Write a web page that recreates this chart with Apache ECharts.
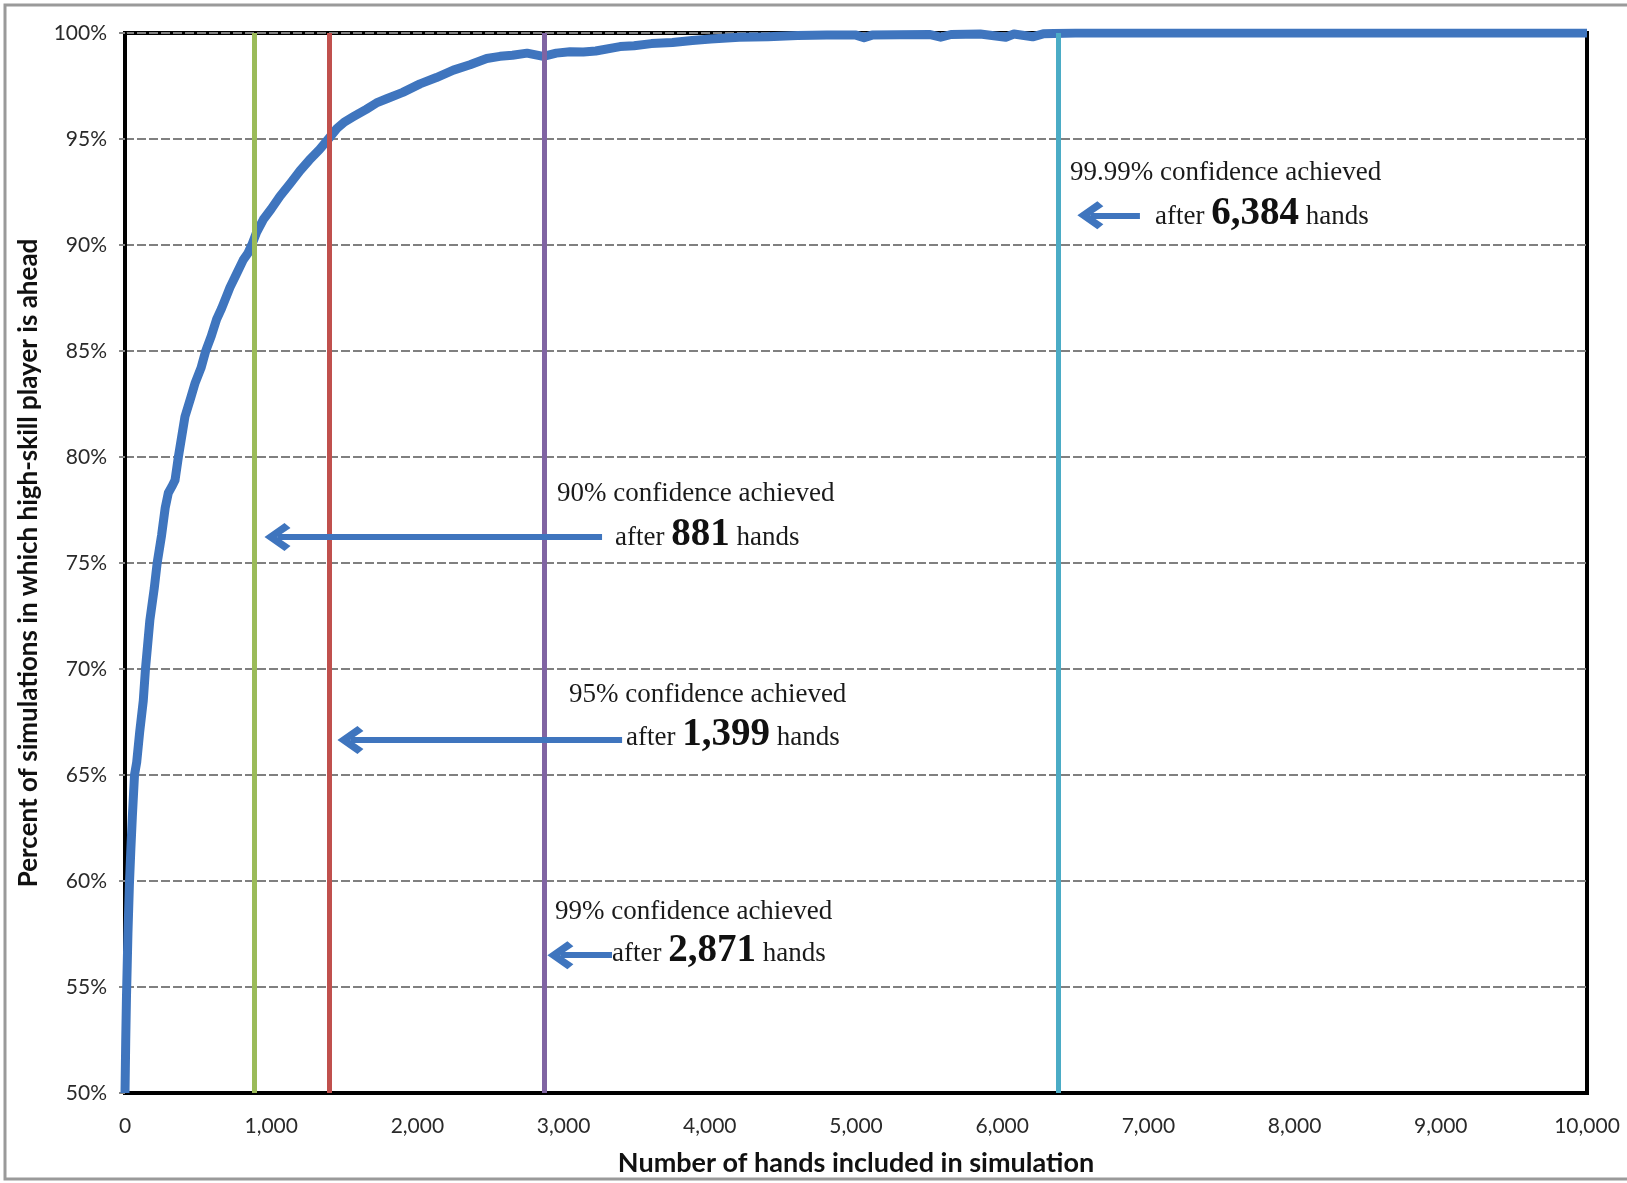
<!DOCTYPE html>
<html>
<head>
<meta charset="utf-8">
<script src="https://cdn.jsdelivr.net/npm/echarts@6/dist/echarts.min.js"></script>
<style>
html,body{margin:0;padding:0;background:#fff;}
#chart{width:1627px;height:1183px;}
</style>
</head>
<body>
<div id="chart"></div>
<script>
// ---- Data ----
const hands = [0, 5, 10, 15, 20, 30, 40, 50, 65, 80, 100, 125, 140, 170, 200, 220, 250, 275, 296, 320, 342, 365, 410, 450, 480, 520, 552, 590, 627, 660, 695, 718, 760, 809, 840, 867, 900, 946, 1000, 1060, 1130, 1197, 1260, 1330, 1391, 1450, 1500, 1562, 1650, 1720, 1790, 1900, 2018, 2130, 2246, 2360, 2474, 2565, 2650, 2750, 2861, 2950, 3044, 3135, 3220, 3386, 3482, 3600, 3744, 3880, 4006, 4200, 4398, 4600, 4800, 5000, 5055, 5110, 5300, 5500, 5579, 5650, 5850, 6024, 6080, 6208, 6280, 6500, 7000, 8000, 9000, 10000];
const pctAhead = [50.0, 52.5, 54.5, 56.0, 57.5, 59.8, 61.5, 63.0, 65.0, 65.6, 67.0, 68.5, 70.0, 72.3, 73.8, 75.0, 76.3, 77.6, 78.3, 78.6, 78.9, 80.0, 81.9, 82.8, 83.5, 84.2, 85.0, 85.7, 86.5, 87.0, 87.6, 88.0, 88.6, 89.3, 89.6, 90.0, 90.6, 91.2, 91.7, 92.3, 92.9, 93.5, 94.0, 94.5, 95.0, 95.5, 95.8, 96.05, 96.4, 96.7, 96.9, 97.2, 97.6, 97.9, 98.25, 98.5, 98.8, 98.9, 98.95, 99.05, 98.9, 99.05, 99.12, 99.1, 99.15, 99.36, 99.4, 99.5, 99.55, 99.65, 99.72, 99.8, 99.82, 99.88, 99.9, 99.9, 99.78, 99.9, 99.92, 99.93, 99.8, 99.93, 99.95, 99.8, 99.95, 99.82, 99.96, 100, 100, 100, 100, 100];

const thresholds = [881, 1399, 2871, 6384];
const thresholdLabels = ['881', '1,399', '2,871', '6,384'];
const confidenceLevels = ['90%', '95%', '99%', '99.99%'];
const thresholdColors = ['#9BBB59', '#C0504D', '#8064A2', '#4BACC6'];
const yTicks = [50, 55, 60, 65, 70, 75, 80, 85, 90, 95, 100];
const xTicks = [0, 1000, 2000, 3000, 4000, 5000, 6000, 7000, 8000, 9000, 10000];

// annotation anchors (in data units: hands, percent)
const headPos = [[2955, 78.25], [3037, 68.77], [2941, 58.54], [6464, 93.4]];
const afterPos = [[3352, 76.32], [3427, 66.89], [3331, 56.70], [7045, 91.46]];
const arrowTail = [[3263, 76.23], [3400, 66.65], [3331, 56.5], [6942, 91.4]];
const arrowTip = [[958, 76.23], [1457, 66.65], [2893, 56.5], [6518, 91.4]];

const serif = '"Liberation Serif", "Times New Roman", serif';
const sans = 'Lato, "Open Sans", sans-serif';
const blue = '#3F75BE';

const curve = hands.map((h, i) => [h, pctAhead[i]]);

const chevron = 'path://M50,0 L100,60 L82,78 L50,38 L18,78 L0,60 Z';
const arrowShift = 85; // hands; moves symbol centre back so the tip lands at arrowTip

const option = {
  animation: false,
  backgroundColor: '#fff',
  graphic: [{
    type: 'rect',
    shape: {x: 5, y: 5, width: 1640, height: 1174},
    style: {fill: 'none', stroke: '#9a9a9a', lineWidth: 3},
    z: 0
  }],
  grid: {
    left: 125, right: 40, top: 33, bottom: 90,
    show: true, borderColor: '#000', borderWidth: 4, backgroundColor: '#fff'
  },
  xAxis: {
    type: 'value', min: 0, max: 10000, interval: 1000,
    name: 'Number of hands included in simulation',
    nameLocation: 'middle', nameGap: 57,
    nameTextStyle: {fontFamily: sans, fontSize: 27, fontWeight: 'bold', color: '#111'},
    axisLine: {show: true, onZero: false, lineStyle: {color: '#000', width: 4}},
    axisTick: {show: false},
    splitLine: {show: false},
    axisLabel: {
      margin: 23, fontFamily: sans, fontSize: 21, color: '#2a2a2a',
      formatter: v => v.toLocaleString('en-US')
    }
  },
  yAxis: {
    type: 'value', min: 50, max: 100, interval: 5,
    name: 'Percent of simulations in which high-skill player is ahead',
    nameLocation: 'middle', nameGap: 83,
    nameTextStyle: {fontFamily: sans, fontSize: 26, fontWeight: 'bold', color: '#111'},
    axisLine: {show: true, lineStyle: {color: '#000', width: 3}},
    axisTick: {show: true, length: 6, lineStyle: {color: '#888', width: 2}},
    splitLine: {show: true, lineStyle: {color: '#808080', width: 2, type: [9, 3]}},
    axisLabel: {
      margin: 18, fontFamily: sans, fontSize: 21, color: '#2a2a2a',
      formatter: v => v + '%'
    }
  },
  series: [
    {
      type: 'line',
      data: curve,
      showSymbol: false,
      symbol: 'none',
      clip: true,
      lineStyle: {color: blue, width: 9, join: 'round'},
      z: 2
    },
    {
      type: 'line',
      data: [],
      z: 4,
      markLine: {
        silent: true,
        symbol: ['none', 'none'],
        label: {show: false},
        animation: false,
        data: thresholds.map((t, i) => ({
          xAxis: t,
          lineStyle: {color: thresholdColors[i], width: 5, type: 'solid'}
        }))
      }
    },
    {
      type: 'line',
      data: [],
      z: 5,
      markLine: {
        silent: true,
        symbol: ['none', chevron],
        symbolSize: [28, 26],
        label: {show: false},
        animation: false,
        lineStyle: {color: blue, width: 6, type: 'solid', opacity: 1},
        itemStyle: {color: blue},
        data: arrowTail.map((tail, i) => [
          {coord: tail},
          {coord: [arrowTip[i][0] + arrowShift, arrowTip[i][1]]}
        ])
      },
      markPoint: {
        silent: true,
        symbol: 'rect',
        symbolSize: 0,
        animation: false,
        data: [].concat(
          headPos.map((p, i) => ({
            coord: p,
            label: {
              show: true, position: [0, 0], align: 'left', verticalAlign: 'middle',
              formatter: confidenceLevels[i] + ' confidence achieved',
              fontFamily: serif, fontSize: 27, color: '#1a1a1a'
            }
          })),
          afterPos.map((p, i) => ({
            coord: p,
            label: {
              show: true, position: [0, 0], align: 'left', verticalAlign: 'middle',
              formatter: '{a|after }{b|' + thresholdLabels[i] + '}{a| hands}',
              rich: {
                a: {fontFamily: serif, fontSize: 27, color: '#1a1a1a', verticalAlign: 'bottom', padding: [0, 0, 3, 0]},
                b: {fontFamily: serif, fontSize: 39, fontWeight: 'bold', color: '#111', verticalAlign: 'bottom'}
              }
            }
          }))
        )
      }
    }
  ]
};

const chart = echarts.init(document.getElementById('chart'), null, {renderer: 'canvas'});
chart.setOption(option);
</script>
</body>
</html>
